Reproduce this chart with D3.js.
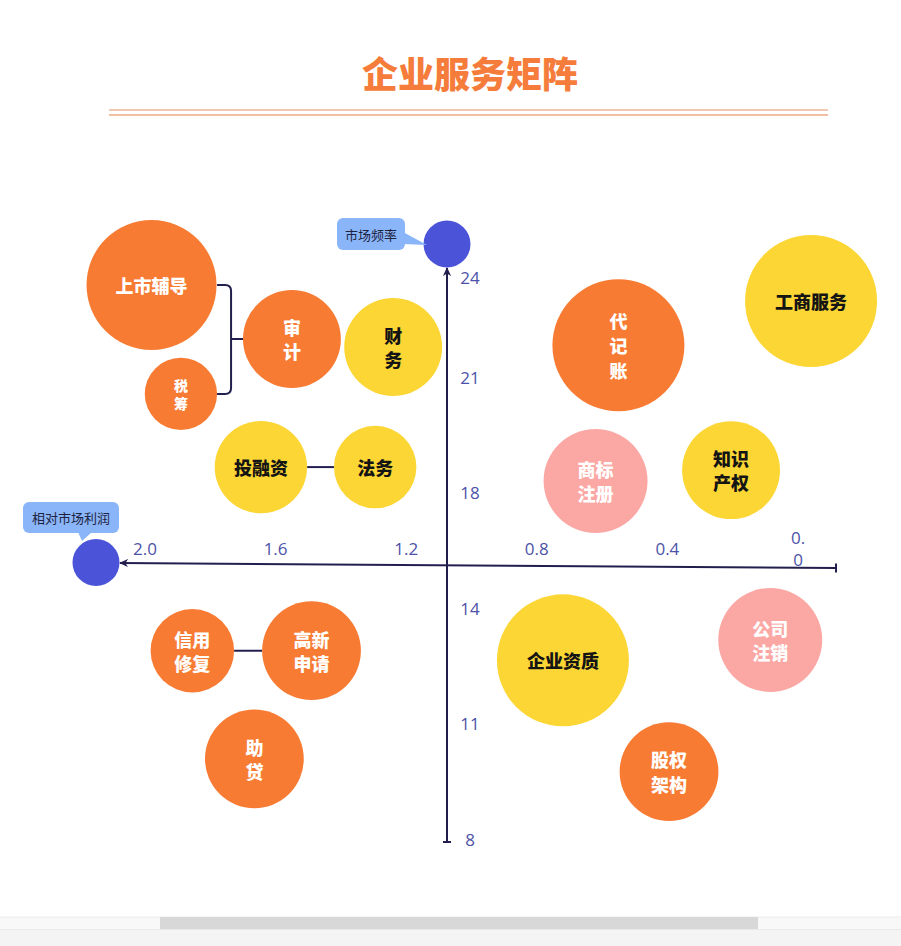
<!DOCTYPE html>
<html>
<head>
<meta charset="utf-8">
<script src="https://cdn.jsdelivr.net/npm/d3@7/dist/d3.min.js"></script>
<style>
  html, body { margin: 0; padding: 0; background: #fff; }
  svg { display: block; }
  .tick-label { font-family: "Open Sans", Lato, sans-serif; font-size: 17px; fill: #4d52a8; }
  .bubble-label { font-family: "Noto Sans CJK SC", sans-serif; font-weight: 900; }
  .callout { font-family: "Noto Sans CJK SC", sans-serif; font-size: 13px; fill: #1d2340; }
</style>
</head>
<body>
<div id="chart"></div>
<script>
// services on the matrix: x = 相对市场利润, y = 市场频率, volume = bubble area
const services = ["上市辅导", "税筹", "审计", "财务", "投融资", "法务", "代记账", "工商服务",
    "商标注册", "知识产权", "企业资质", "公司注销", "股权架构", "信用修复", "高新申请", "助贷"];
const labelLines = [["上市辅导"], ["税", "筹"], ["审", "计"], ["财", "务"], ["投融资"], ["法务"],
    ["代", "记", "账"], ["工商服务"], ["商标", "注册"], ["知识", "产权"], ["企业资质"],
    ["公司", "注销"], ["股权", "架构"], ["信用", "修复"], ["高新", "申请"], ["助", "贷"]];
const profit = [1.98, 1.89, 1.55, 1.24, 1.645, 1.295, 0.55, -0.04, 0.62, 0.205, 0.72, 0.085, 0.395, 1.855, 1.49, 1.665];
const frequency = [23.76, 20.56, 22.14, 21.9, 18.66, 18.66, 21.95, 23.28, 18.3, 18.58, 12.64, 13.17, 9.75, 12.89, 12.89, 10.08];
const volume = [97, 30, 55, 55, 49, 39, 100, 100, 62, 55, 100, 62, 56, 40, 56, 56];
const tier = ["重点", "重点", "重点", "常规", "常规", "常规", "重点", "常规",
    "潜力", "常规", "常规", "潜力", "重点", "重点", "重点", "重点"];

// links drawn between bubbles
const pairLinks = [["投融资", "法务"], ["信用修复", "高新申请"]];
const bracketLinks = [{ parent: "审计", children: ["上市辅导", "税筹"] }];

const xTicks = [2.0, 1.6, 1.2, 0.8, 0.4, 0.0];
const xTickLabels = ["2.0", "1.6", "1.2", "0.8", "0.4", "0.0"];
const yTicks = [8, 11, 14, 18, 21, 24];

const title = "企业服务矩阵";
const xAxisTitle = "相对市场利润";
const yAxisTitle = "市场频率";

let WIDTH = 901, HEIGHT = 946;
let AXIS_X = 447;           // vertical axis position
let Y_BOTTOM = 839, Y_TOP = 277, Y_STEP = 115.5;
let INK = "#221f4e";

let svg = d3.select("#chart").append("svg")
    .attr("width", WIDTH)
    .attr("height", HEIGHT);

let xScale = d3.scaleLinear().domain([2.0, 0.0]).range([145, 798]);
// ticks sit at an even step, except the top one which is squeezed in
let yScale = d3.scaleLinear()
    .domain(yTicks)
    .range(yTicks.map((d, i) => i < yTicks.length - 1 ? Y_BOTTOM - i * Y_STEP : Y_TOP));
let rScale = d3.scaleSqrt().domain([0, 100]).range([0, 66]);
let color = d3.scaleOrdinal()
    .domain(["重点", "常规", "潜力"])
    .range(["#f77b33", "#fcd634", "#fba8a5"]);
let textColor = d3.scaleOrdinal()
    .domain(["重点", "常规", "潜力"])
    .range(["#ffffff", "#141414", "#ffffff"]);

let bubbles = services.map((name, i) => ({
    name: name,
    lines: labelLines[i],
    x: xScale(profit[i]),
    y: yScale(frequency[i]),
    r: rScale(volume[i]),
    tier: tier[i]
}));
let byName = {};
bubbles.forEach(b => { byName[b.name] = b; });

// title and double rule
svg.append("text")
    .attr("x", 470)
    .attr("y", 72)
    .attr("text-anchor", "middle")
    .attr("dominant-baseline", "central")
    .attr("font-family", "Noto Sans CJK SC, sans-serif")
    .attr("font-weight", 900)
    .attr("font-size", 36)
    .attr("fill", "#f57c3a")
    .text(title);
svg.append("line").attr("x1", 109).attr("x2", 828).attr("y1", 110).attr("y2", 110)
    .attr("stroke", "#eecab5").attr("stroke-width", 2);
svg.append("line").attr("x1", 109).attr("x2", 828).attr("y1", 115).attr("y2", 115)
    .attr("stroke", "#f3bfa2").attr("stroke-width", 2);

// arrow head
svg.append("defs").append("marker")
    .attr("id", "arrow")
    .attr("markerUnits", "userSpaceOnUse")
    .attr("viewBox", "0 0 10 10")
    .attr("refX", 9).attr("refY", 5)
    .attr("markerWidth", 9).attr("markerHeight", 9)
    .attr("orient", "auto")
    .append("path")
    .attr("d", "M0,0.5 L10,5 L0,9.5 L3,5 Z")
    .attr("fill", INK);

let axes = svg.append("g").attr("class", "axes");

// horizontal axis (slightly tilted in the original drawing)
axes.append("line")
    .attr("x1", 836).attr("y1", 568)
    .attr("x2", 120).attr("y2", 563)
    .attr("stroke", INK).attr("stroke-width", 2)
    .attr("marker-end", "url(#arrow)");
axes.append("line")
    .attr("x1", 836).attr("x2", 836).attr("y1", 563.5).attr("y2", 572.5)
    .attr("stroke", INK).attr("stroke-width", 2);

// vertical axis
axes.append("line")
    .attr("x1", AXIS_X).attr("y1", 842)
    .attr("x2", AXIS_X).attr("y2", 268)
    .attr("stroke", INK).attr("stroke-width", 2)
    .attr("marker-end", "url(#arrow)");
axes.append("line")
    .attr("x1", AXIS_X - 4).attr("x2", AXIS_X + 4).attr("y1", 842).attr("y2", 842)
    .attr("stroke", INK).attr("stroke-width", 2);

// x tick labels, the last one wraps inside its narrow box
axes.selectAll("text.x-tick")
    .data(xTicks)
    .enter().append("text")
    .attr("class", "tick-label x-tick")
    .attr("text-anchor", "middle")
    .each(function(d, i) {
        let label = xTickLabels[i];
        let parts = d === 0 ? [label.slice(0, 2), label.slice(2)] : [label];
        let t = d3.select(this);
        parts.forEach((p, j) => {
            t.append("tspan")
                .attr("x", xScale(d))
                .attr("y", (parts.length > 1 ? 537 + j * 22 : 548))
                .attr("dominant-baseline", "central")
                .text(p);
        });
    });

axes.selectAll("text.y-tick")
    .data(yTicks)
    .enter().append("text")
    .attr("class", "tick-label y-tick")
    .attr("x", AXIS_X + 23)
    .attr("y", d => yScale(d))
    .attr("text-anchor", "middle")
    .attr("dominant-baseline", "central")
    .text(d => d);

// axis end dots with callouts
let ends = svg.append("g").attr("class", "axis-ends");
ends.append("circle").attr("cx", AXIS_X).attr("cy", 244).attr("r", 23.5).attr("fill", "#4b53d9");
ends.append("circle").attr("cx", 96).attr("cy", 562.5).attr("r", 23.5).attr("fill", "#4b53d9");

ends.append("rect").attr("x", 337).attr("y", 218).attr("width", 68).attr("height", 32)
    .attr("rx", 6).attr("fill", "#8ab5f9");
ends.append("path").attr("d", "M403,232 L403,244 L427,245 Z").attr("fill", "#8ab5f9");
ends.append("text").attr("class", "callout")
    .attr("x", 371).attr("y", 234.5)
    .attr("text-anchor", "middle").attr("dominant-baseline", "central")
    .text(yAxisTitle);

ends.append("rect").attr("x", 23).attr("y", 502).attr("width", 96).attr("height", 31)
    .attr("rx", 6).attr("fill", "#8ab5f9");
ends.append("path").attr("d", "M78,532 L92,532 L82,541 Z").attr("fill", "#8ab5f9");
ends.append("text").attr("class", "callout")
    .attr("x", 71).attr("y", 517.5)
    .attr("text-anchor", "middle").attr("dominant-baseline", "central")
    .text(xAxisTitle);

// connectors between bubbles
let links = svg.append("g").attr("class", "links")
    .attr("fill", "none").attr("stroke", INK).attr("stroke-width", 2);

pairLinks.forEach(([a, b]) => {
    let p = byName[a], q = byName[b];
    let dx = q.x - p.x, dy = q.y - p.y;
    let len = Math.sqrt(dx * dx + dy * dy);
    links.append("line")
        .attr("x1", p.x + dx / len * p.r).attr("y1", p.y + dy / len * p.r)
        .attr("x2", q.x - dx / len * q.r).attr("y2", q.y - dy / len * q.r);
});

bracketLinks.forEach(link => {
    let kids = link.children.map(n => byName[n]);
    let parent = byName[link.parent];
    let x0 = d3.max(kids, k => k.x + k.r);
    let spine = x0 + 14;
    let top = kids[0].y, bottom = kids[kids.length - 1].y;
    let c = 6;
    links.append("path")
        .attr("d", `M${x0},${top} H${spine - c} Q${spine},${top} ${spine},${top + c}` +
            ` V${bottom - c} Q${spine},${bottom} ${spine - c},${bottom} H${x0}`);
    links.append("line")
        .attr("x1", spine).attr("x2", parent.x - parent.r)
        .attr("y1", parent.y).attr("y2", parent.y);
});

// bubbles
let nodes = svg.append("g").attr("class", "bubbles")
    .selectAll("g.bubble")
    .data(bubbles)
    .enter().append("g")
    .attr("class", "bubble")
    .attr("transform", d => `translate(${d.x}, ${d.y})`);

nodes.append("circle")
    .attr("r", d => d.r)
    .attr("fill", d => color(d.tier));

nodes.append("text")
    .attr("class", "bubble-label")
    .attr("text-anchor", "middle")
    .attr("fill", d => textColor(d.tier))
    .attr("font-size", d => d.r < 40 ? 14 : 18)
    .each(function(d) {
        let size = d.r < 40 ? 14 : 18;
        let lh = size * 1.35;
        let n = d.lines.length;
        d3.select(this).selectAll("tspan")
            .data(d.lines)
            .enter().append("tspan")
            .attr("x", 0)
            .attr("y", (l, i) => (i - (n - 1) / 2) * lh)
            .attr("dominant-baseline", "central")
            .text(l => l);
    });

// horizontal scrollbar strip at the bottom of the page
let bar = svg.append("g").attr("class", "scrollbar");
bar.append("rect").attr("x", 0).attr("y", 917).attr("width", WIDTH).attr("height", 12).attr("fill", "#f8f8f8");
bar.append("rect").attr("x", 0).attr("y", 929).attr("width", WIDTH).attr("height", 17).attr("fill", "#f4f4f4");
bar.append("line").attr("x1", 0).attr("x2", WIDTH).attr("y1", 917).attr("y2", 917).attr("stroke", "#ececec");
bar.append("line").attr("x1", 0).attr("x2", WIDTH).attr("y1", 929.5).attr("y2", 929.5).attr("stroke", "#e9e9e9");
bar.append("rect").attr("x", 160).attr("y", 917).attr("width", 598).attr("height", 12).attr("fill", "#d8d8d8");
</script>
</body>
</html>
